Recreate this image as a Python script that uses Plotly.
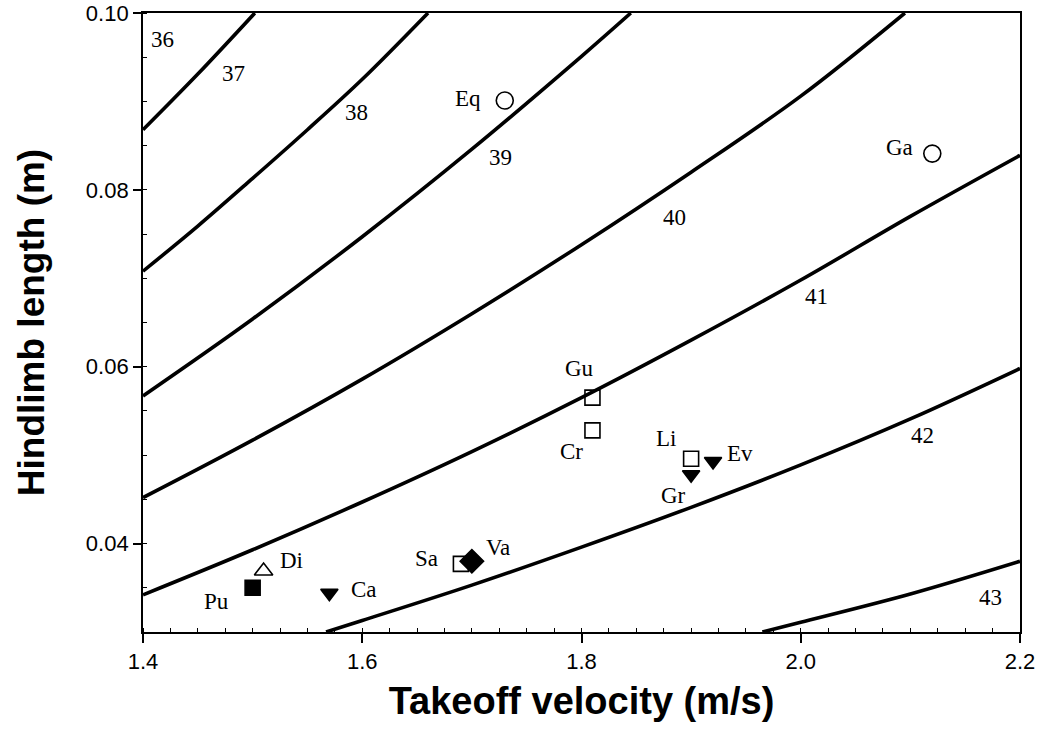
import plotly.graph_objects as go

# Contour curves (takeoff angle isolines): velocity (m/s), hindlimb length (m)
c37_v = [1.40, 1.45, 1.502]
c37_L = [0.0868, 0.0931, 0.1000]
c38_v = [1.40, 1.45, 1.50, 1.55, 1.60, 1.66]
c38_L = [0.0708, 0.0759, 0.0813, 0.0868, 0.0925, 0.1000]
c39_v = [1.40, 1.50, 1.60, 1.70, 1.80, 1.845]
c39_L = [0.0567, 0.0654, 0.0747, 0.0846, 0.0951, 0.1000]
c40_v = [1.40, 1.50, 1.60, 1.70, 1.80, 1.90, 2.00, 2.095]
c40_L = [0.0452, 0.0517, 0.0586, 0.0660, 0.0738, 0.0820, 0.0906, 0.1000]
c41_v = [1.40, 1.50, 1.60, 1.70, 1.80, 1.90, 2.00, 2.10, 2.20]
c41_L = [0.0342, 0.0393, 0.0447, 0.0504, 0.0565, 0.0630, 0.0698, 0.0770, 0.0839]
c42_v = [1.567, 1.60, 1.70, 1.80, 1.90, 2.00, 2.10, 2.20]
c42_L = [0.0300, 0.0313, 0.0353, 0.0396, 0.0441, 0.0489, 0.0541, 0.0598]
c43_v = [1.965, 2.00, 2.10, 2.20]
c43_L = [0.0300, 0.0311, 0.0343, 0.0380]

curve_v = [c37_v, c38_v, c39_v, c40_v, c41_v, c42_v, c43_v]
curve_L = [c37_L, c38_L, c39_L, c40_L, c41_L, c42_L, c43_L]

# Contour labels
level_text = ["36", "37", "38", "39", "40", "41", "42", "43"]
level_v = [1.418, 1.483, 1.595, 1.726, 1.885, 2.014, 2.111, 2.173]
level_L = [0.0970, 0.0932, 0.0887, 0.0837, 0.0769, 0.0679, 0.0522, 0.0339]

# Species points
species = ["Eq", "Ga", "Gu", "Cr", "Li", "Ev", "Gr", "Di", "Pu", "Ca", "Sa", "Va"]
vel = [1.73, 2.12, 1.81, 1.81, 1.90, 1.92, 1.90, 1.51, 1.50, 1.57, 1.69, 1.70]
hl = [0.0901, 0.0841, 0.0565, 0.0528, 0.0496, 0.0493, 0.0478, 0.0369, 0.0350, 0.0344, 0.0377, 0.0380]
symbols = ["circle-open", "circle-open", "square-open", "square-open", "square-open",
           "triangle-down", "triangle-down", "triangle-up-open", "square", "triangle-down",
           "square-open", "diamond"]
sizes = [17, 17, 15, 15, 15, 15, 15, 16, 15, 15, 15, 18]
label_dx = [-37, -33, -13, -21, -25, 27, -18, 28, -36, 35, -34, 26]
label_dy = [2, 6, 29, -21, 20, 8, -21, 10, -14, 4, 5, 14]

fig = go.Figure()

for v, L in zip(curve_v, curve_L):
    fig.add_trace(go.Scatter(x=v, y=L, mode="lines", line=dict(color="black", width=3.6, shape="spline"),
                             hoverinfo="skip", showlegend=False))

fig.add_trace(go.Scatter(
    x=vel, y=hl, mode="markers", showlegend=False, opacity=1,
    marker=dict(symbol=symbols, size=sizes, color="#000000", opacity=1,
                line=dict(color="#000000", width=1.6)),
    text=species))

serif = "Liberation Serif, Times New Roman, serif"
for t, x, y in zip(level_text, level_v, level_L):
    fig.add_annotation(x=x, y=y, text=t, showarrow=False, font=dict(family=serif, size=23, color="black"))

for t, x, y, dx, dy in zip(species, vel, hl, label_dx, label_dy):
    fig.add_annotation(x=x, y=y, text=t, showarrow=False, xshift=dx, yshift=dy,
                       font=dict(family=serif, size=23, color="black"))

sans = "Liberation Sans, Arial, sans-serif"
fig.update_xaxes(range=[1.4, 2.2], tickvals=[1.4, 1.6, 1.8, 2.0, 2.2], ticktext=["1.4", "1.6", "1.8", "2.0", "2.2"],
                 ticks="outside", ticklen=9, tickwidth=1.5, tickcolor="black", automargin=False,
                 showline=True, linecolor="black", linewidth=1.8, mirror=True,
                 showgrid=False, zeroline=False,
                 minor=dict(dtick=0.025, ticks="inside", ticklen=4, tickcolor="black", tickwidth=1),
                 tickfont=dict(family=sans, size=22, color="black"),
                 title=dict(text="<b>Takeoff velocity (m/s)</b>", font=dict(family=sans, size=38, color="black"),
                            standoff=14))
fig.update_yaxes(range=[0.03, 0.10], tickvals=[0.04, 0.06, 0.08, 0.10], ticktext=["0.04", "0.06", "0.08", "0.10"],
                 ticks="outside", ticklen=8, tickwidth=1.5, tickcolor="black", automargin=False,
                 showline=True, linecolor="black", linewidth=1.8, mirror=True,
                 showgrid=False, zeroline=False,
                 minor=dict(dtick=0.005, ticks="inside", ticklen=4, tickcolor="black", tickwidth=1),
                 tickfont=dict(family=sans, size=22, color="black"),
                 title=dict(text="<b>Hindlimb length (m)</b>", font=dict(family=sans, size=37, color="black"),
                            standoff=30))

fig.update_layout(width=1041, height=731, margin=dict(l=143, r=21, t=13, b=99),
                  paper_bgcolor="white", plot_bgcolor="white")

fig.write_html("out.html")
